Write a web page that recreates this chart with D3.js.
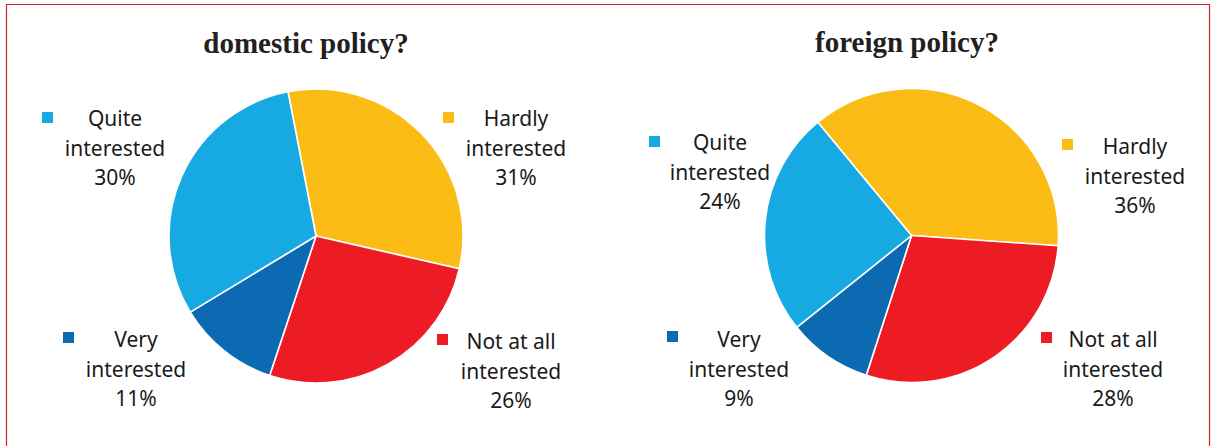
<!DOCTYPE html>
<html>
<head>
<meta charset="utf-8">
<script src="https://cdn.jsdelivr.net/npm/d3@7"></script>
<style>
  html, body { margin: 0; padding: 0; background: #fff; }
  svg { display: block; }
</style>
</head>
<body>
<svg id="chart" width="1211" height="446"></svg>
<script>
// Survey answers: how interested are you in ... ?
const categories = ["Hardly interested", "Not at all interested", "Very interested", "Quite interested"];
const labelLines = [["Hardly", "interested"], ["Not at all", "interested"], ["Very", "interested"], ["Quite", "interested"]];
const domesticValues = [31, 26, 11, 30];
const foreignValues = [36, 28, 9, 24];
const titles = ["domestic policy?", "foreign policy?"];

const colors = d3.scaleOrdinal()
  .domain(categories)
  .range(["#fbbc15", "#ed1c24", "#0c6ab3", "#17a9e1"]);

const svg = d3.select("#chart");

// frame
svg.append("path")
  .attr("d", "M6.5,446 V4.5 H1209.5 V446")
  .attr("fill", "none")
  .attr("stroke", "#c1272d")
  .attr("stroke-width", 1.2);

// per-panel layout
const panels = [
  {
    title: titles[0], values: domesticValues,
    cx: 316, cy: 236, r: 147, start: -11,
    titleX: 306, titleY: 53,
    labels: [
      {x: 516, y: 126, sq: [443, 112]},
      {x: 511, y: 349, sq: [437, 334]},
      {x: 136, y: 347, sq: [63, 332]},
      {x: 115, y: 126, sq: [42, 112]}
    ]
  },
  {
    title: titles[1], values: foreignValues,
    cx: 911.5, cy: 235.5, r: 147, start: -39.6,
    titleX: 907, titleY: 52,
    labels: [
      {x: 1135, y: 154, sq: [1062, 139]},
      {x: 1113, y: 347, sq: [1041, 332]},
      {x: 739, y: 347, sq: [667, 331]},
      {x: 720, y: 150, sq: [649, 136]}
    ]
  }
];

const lineH = 29.5;

panels.forEach(p => {
  const a0 = p.start * Math.PI / 180;
  const pie = d3.pie().sort(null).value(d => d.value)
    .startAngle(a0).endAngle(a0 + 2 * Math.PI);
  const data = categories.map((c, i) => ({cat: c, value: p.values[i], lines: labelLines[i]}));
  const arc = d3.arc().innerRadius(0).outerRadius(p.r);

  const g = svg.append("g").attr("transform", `translate(${p.cx},${p.cy})`);
  g.selectAll("path")
    .data(pie(data))
    .join("path")
    .attr("d", arc)
    .attr("fill", d => colors(d.data.cat))
    .attr("stroke", "#fff")
    .attr("stroke-width", 1.6)
    .attr("stroke-linejoin", "round");

  svg.append("text")
    .attr("x", p.titleX)
    .attr("y", p.titleY)
    .attr("text-anchor", "middle")
    .attr("font-family", "'Liberation Serif', 'DejaVu Serif', serif")
    .attr("font-weight", "bold")
    .attr("font-size", 29)
    .attr("fill", "#231f20")
    .text(p.title);

  data.forEach((d, i) => {
    const L = p.labels[i];
    svg.append("rect")
      .attr("x", L.sq[0]).attr("y", L.sq[1])
      .attr("width", 11).attr("height", 11)
      .attr("fill", colors(d.cat));
    const t = svg.append("text")
      .attr("text-anchor", "middle")
      .attr("font-family", "'Noto Sans', 'Open Sans', sans-serif")
      .attr("font-size", 21)
      .attr("fill", "#1a1a1a");
    const lines = d.lines.concat([d.value + "%"]);
    lines.forEach((s, k) => {
      t.append("tspan").attr("x", L.x).attr("y", L.y + k * lineH).text(s);
    });
  });
});
</script>
</body>
</html>
